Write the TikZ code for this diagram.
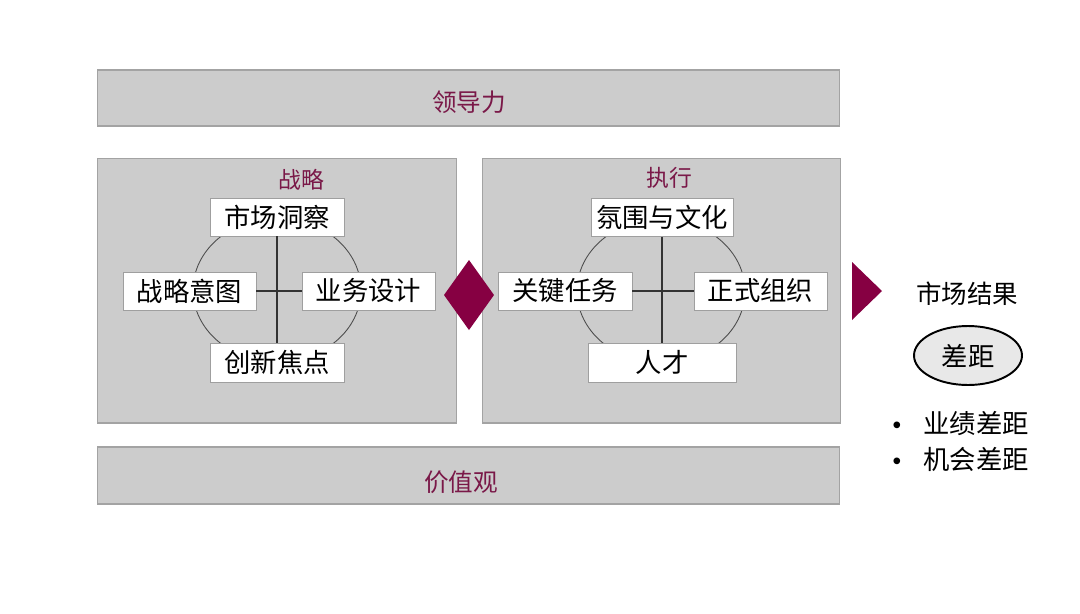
\documentclass[tikz,border=0pt]{standalone}
\usepackage{fontspec}
\setmainfont{Noto Sans CJK SC}
\newfontfamily\bulletfont{Liberation Sans}
\usetikzlibrary{shapes.geometric}
\definecolor{panel}{HTML}{CCCCCC}
\definecolor{panelline}{HTML}{A3A3A3}
\definecolor{maroon}{HTML}{860042}
\definecolor{labelc}{HTML}{7A1848}
\begin{document}
\begin{tikzpicture}[x=0.02cm,y=-0.02cm,
  panelbox/.style={draw=panelline, fill=panel, line width=0.6pt, inner sep=0pt},
  headlabel/.style={text=labelc, font=\fontsize{14}{16}\selectfont, inner sep=0pt},
  sublabel/.style={text=labelc, font=\fontsize{13}{15}\selectfont, inner sep=0pt},
  whitebox/.style={draw=gray!75, fill=white, line width=0.4pt, inner sep=0pt,
    minimum height=0.76cm, font=\fontsize{15}{18}\selectfont},
  crossline/.style={draw=black!80, line width=0.6pt},
  ring/.style={draw=black!70, line width=0.5pt},
  plain/.style={font=\fontsize{15}{18}\selectfont, inner sep=0pt},
  bulletmark/.style={font=\bulletfont\fontsize{14}{16}\selectfont, inner sep=0pt}
]
\useasboundingbox (0,0) rectangle (1080,613);
\fill[white] (0,0) rectangle (1080,613);

% bars and panels
\node[panelbox, minimum width=14.86cm, minimum height=1.12cm] (lead) at (468.5,98) {};
\node[headlabel] (leadtxt) at (469,102) {领导力};
\node[panelbox, minimum width=14.86cm, minimum height=1.14cm] (values) at (468.5,475.5) {};
\node[headlabel] (valuestxt) at (461,482) {价值观};
\node[panelbox, minimum width=7.2cm, minimum height=5.3cm] (strat) at (277,290.5) {};
\node[panelbox, minimum width=7.18cm, minimum height=5.3cm] (exec) at (661.5,290.5) {};
\node[sublabel] (strattxt) at (301,180) {战略};
\node[sublabel] (exectxt) at (669,178) {执行};

% rings
\draw[ring] (277,290) ellipse [x radius=1.68cm, y radius=1.44cm];
\draw[ring] (661,291) ellipse [x radius=1.68cm, y radius=1.44cm];

% strategy boxes
\node[whitebox, minimum width=2.68cm] (s1) at (277,217) {市场洞察};
\node[whitebox, minimum width=2.66cm] (s2) at (189.5,291) {战略意图};
\node[whitebox, minimum width=2.66cm] (s3) at (368.5,291) {业务设计};
\node[whitebox, minimum width=2.68cm, minimum height=0.78cm] (s4) at (277,362.5) {创新焦点};
\draw[crossline] (s1.south) -- (s4.north);
\draw[crossline] (s2.east) -- (s3.west);

% execution boxes
\node[whitebox, minimum width=2.84cm] (e1) at (662,217.5) {氛围与文化};
\node[whitebox, minimum width=2.68cm] (e2) at (565,291) {关键任务};
\node[whitebox, minimum width=2.66cm] (e3) at (760.5,291) {正式组织};
\node[whitebox, minimum width=2.96cm, minimum height=0.78cm] (e4) at (662,362.5) {人才};
\draw[crossline] (e1.south) -- (e4.north);
\draw[crossline] (e2.east) -- (e3.west);

% diamond and triangle
\fill[maroon] (444,295) -- (469,260) -- (494,295) -- (469,330) -- cycle;
\fill[maroon] (852,262) -- (882,291) -- (852,320) -- cycle;

% right side
\node[plain, font=\fontsize{14.5}{17}\selectfont] (result) at (967,294) {市场结果};
\node[ellipse, draw=black, line width=1.1pt, fill=black!9, minimum width=2.16cm,
  minimum height=1.18cm, inner sep=0pt, font=\fontsize{15}{18}\selectfont] (gap) at (968,355.5) {差距};
\node[bulletmark] (b1) at (897,428) {•};
\node[plain, anchor=west] (t1) at (923,423) {业绩差距};
\node[bulletmark] (b2) at (897,464) {•};
\node[plain, anchor=west] (t2) at (923,459) {机会差距};
\end{tikzpicture}
\end{document}
